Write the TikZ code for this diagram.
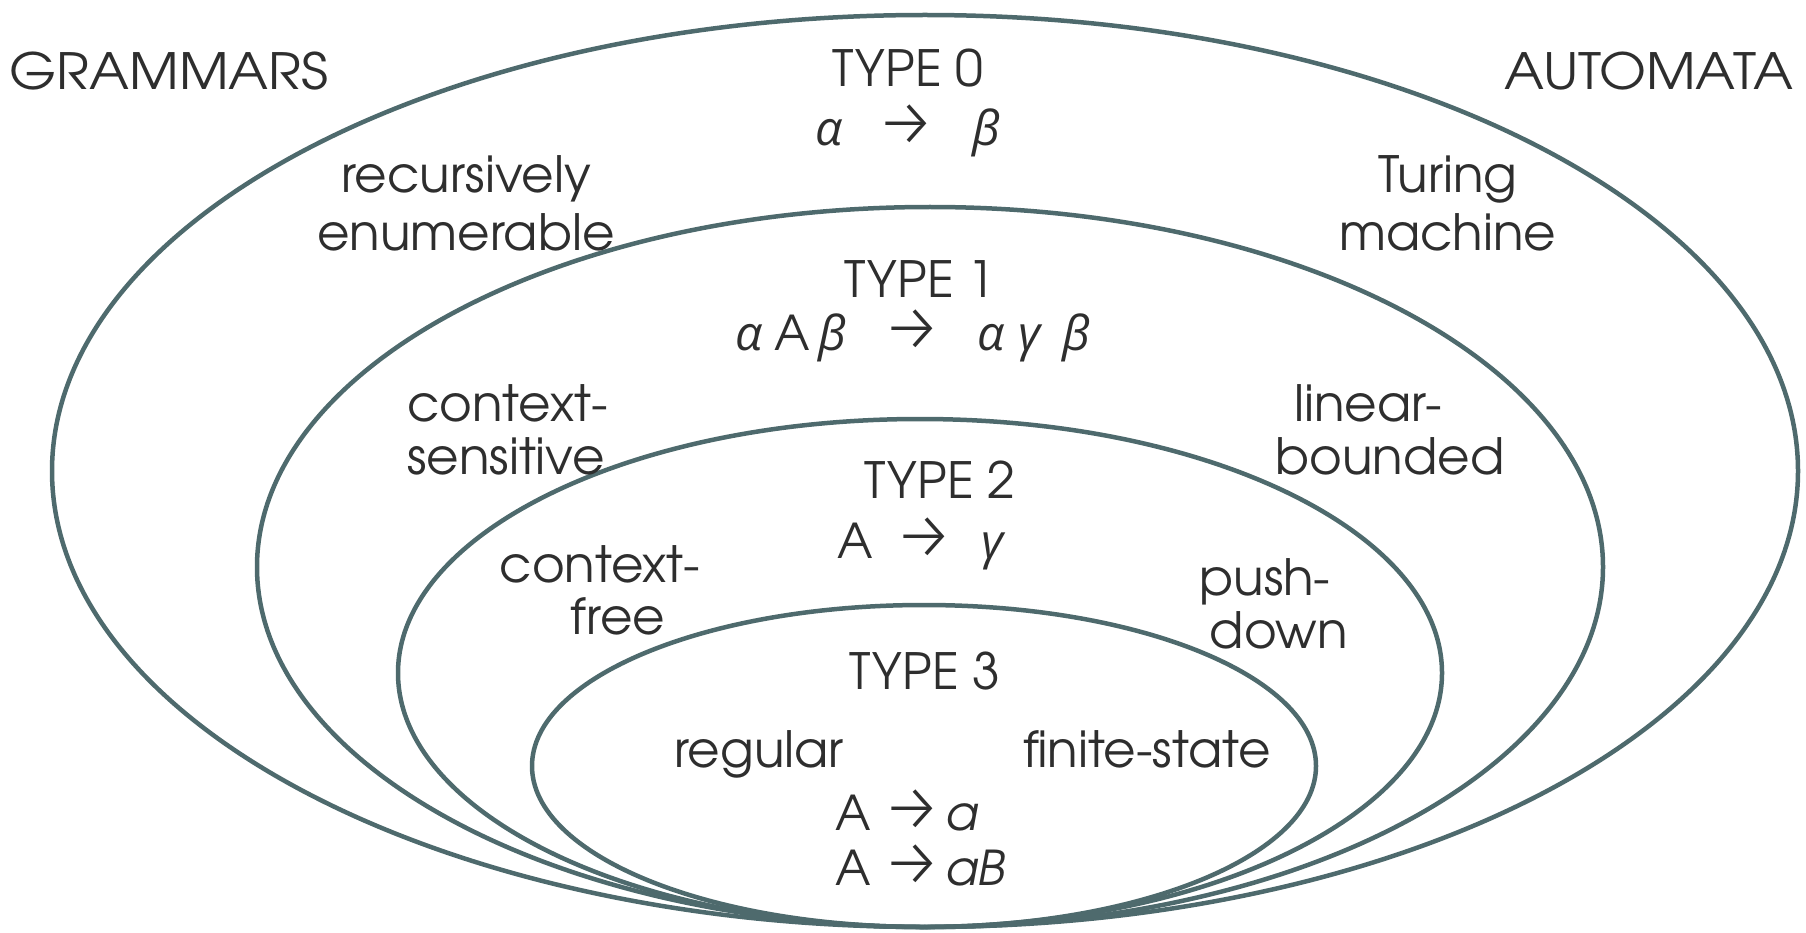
\documentclass[tikz,border=0pt]{standalone}
\usepackage{fontspec}
\setmainfont{texgyreadventor}[Extension=.otf,UprightFont=*-regular,ItalicFont=*-italic,BoldFont=*-bold,BoldItalicFont=*-bolditalic]
\newfontfamily\wideface{texgyreadventor}[Extension=.otf,UprightFont=*-regular,FakeStretch=1.08]
\newfontfamily\greekfont{Open Sans}
\newfontfamily\arrowfont{Fira Sans Light}
\definecolor{ringcol}{HTML}{4E6A6D}
\definecolor{txtcol}{HTML}{2E2E2E}
\newcommand{\gk}[1]{{\greekfont\itshape #1}}
\newcommand{\ar}{\smash{\arrowfont\fontsize{66}{60}\selectfont →}}
\begin{document}
\begin{tikzpicture}[x=1pt,y=-1pt,
  ring/.style={draw=ringcol,line width=4.5pt},
  lbl/.style={text=txtcol,inner sep=0pt,anchor=base,font=\fontsize{50}{56}\selectfont},
  head/.style={lbl,font=\wideface\fontsize{50}{56}\selectfont},
  rule/.style={text=txtcol,inner sep=0pt,anchor=base west,font=\fontsize{48}{56}\selectfont}]
\useasboundingbox (0,0) rectangle (1806,933);

% nested language classes, all touching at the bottom
\draw[ring] (925,471) ellipse [x radius=873pt, y radius=456pt];
\draw[ring] (930,567) ellipse [x radius=673pt, y radius=360pt];
\draw[ring] (920,673) ellipse [x radius=522pt, y radius=254pt];
\draw[ring] (924,766) ellipse [x radius=392pt, y radius=161pt];

% column headings
\node[head] (gram) at (169,90) {GRAMMARS};
\node[head] (auto) at (1649,90) {AUTOMATA};

% type 0
\node[lbl] (t0) at (908,87) {TYPE 0};
\node[rule] (r0) at (815,146) {\gk{α}\hspace{34pt}\ar\hspace{37pt}\gk{β}};
\node[lbl] (re1) at (466,193) {recursively};
\node[lbl] (re2) at (466,251) {enumerable};
\node[lbl] (tm1) at (1448,193) {Turing};
\node[lbl] (tm2) at (1448,251) {machine};

% type 1
\node[lbl] (t1) at (920,298) {TYPE 1};
\node[rule] (r1) at (735,350) {\gk{α}\hspace{12pt}A\hspace{8pt}\gk{β}\hspace{37pt}\ar\hspace{35pt}\gk{α}\hspace{14pt}\gk{γ}\hspace{22pt}\gk{β}};
\node[lbl,anchor=base west] (cs1) at (407,421) {context-};
\node[lbl,anchor=base west] (cs2) at (407,474) {sensitive};
\node[lbl] (lb1) at (1368,421) {linear-};
\node[lbl] (lb2) at (1390,474) {bounded};

% type 2
\node[lbl] (t2) at (940,498) {TYPE 2};
\node[rule] (r2) at (837,558) {A\hspace{22pt}\ar\hspace{27pt}\gk{γ}};
\node[lbl] (cf1) at (600,582) {context-};
\node[lbl] (cf2) at (618,634) {free};
\node[lbl] (pd1) at (1265,595) {push-};
\node[lbl] (pd2) at (1279,648) {down};

% type 3
\node[lbl] (t3) at (925,689) {TYPE 3};
\node[lbl] (reg) at (759,767) {regular};
\node[lbl] (fs) at (1147,767) {finite-state};
\node[rule] (r3a) at (835,830) {A\hspace{12pt}\ar\hspace{3pt}\textit{a}};
\node[rule] (r3b) at (835,885) {A\hspace{12pt}\ar\hspace{3pt}\textit{aB}};
\end{tikzpicture}
\end{document}
